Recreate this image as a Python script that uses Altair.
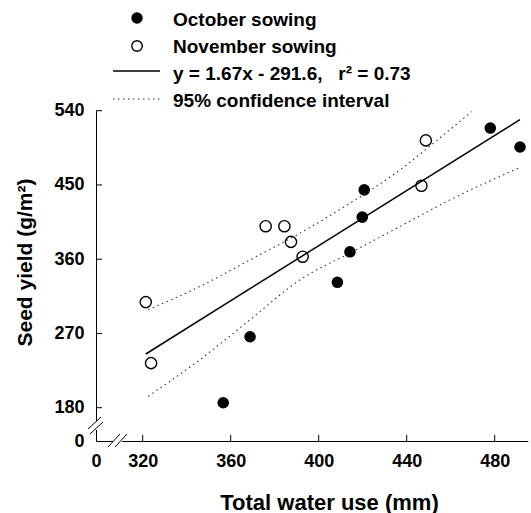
import altair as alt
import pandas as pd

# ---- data ----
oct_water = [356.6, 368.8, 408.5, 414.2, 419.8, 420.7, 478.0, 491.5]
oct_yield = [186, 266, 332, 369, 411, 444, 519, 496]
nov_water = [321.4, 323.8, 375.9, 384.4, 387.4, 392.7, 446.7, 448.7]
nov_yield = [308, 234, 400, 400, 381, 363, 449, 504]

fit_water = [321.4, 491.5]
fit_yield = [245.1, 529.2]

ci_up_water = [322.5, 346.0, 368.8, 391.5, 414.2, 436.9, 452.1, 469.5]
ci_up_yield = [298.7, 326.9, 359.2, 391.6, 427.9, 468.2, 500.5, 538.8]
ci_lo_water = [322.5, 346.0, 368.8, 391.5, 414.2, 436.9, 459.7, 490.7]
ci_lo_yield = [193.8, 238.2, 286.6, 335.0, 367.4, 399.6, 431.9, 470.3]

x_ticks = [0, 320, 360, 400, 440, 480]
y_ticks = [0, 180, 270, 360, 450, 540]
x_inner_ticks = [320, 360, 400, 440, 480]
y_inner_ticks = [180, 270, 360, 450, 540]

legend_labels = ["October sowing", "November sowing",
                 "y = 1.67x - 291.6,\u00a0\u00a0\u00a0r\u00b2 = 0.73", "95% confidence interval"]

FONT = "Liberation Sans"

oct_df = pd.DataFrame({"water": oct_water, "yield": oct_yield})
nov_df = pd.DataFrame({"water": nov_water, "yield": nov_yield})
fit_df = pd.DataFrame({"water": fit_water, "yield": fit_yield})
up_df = pd.DataFrame({"water": ci_up_water, "yield": ci_up_yield})
lo_df = pd.DataFrame({"water": ci_lo_water, "yield": ci_lo_yield})
xt_df = pd.DataFrame({"water": x_inner_ticks})
yt_df = pd.DataFrame({"yield": y_inner_ticks})
one = pd.DataFrame({"a": [0]})

xscale = alt.Scale(domain=[0, 320, 495], range=[0, 46.7, 431.7], zero=False, nice=False)
yscale = alt.Scale(domain=[0, 180, 540], range=[441, 407.7, 110.7], zero=False, nice=False)

xaxis = alt.Axis(values=x_ticks, ticks=False, labelPadding=11, labelFontSize=18,
                 labelFont=FONT, labelFontWeight="bold", labelColor="black",
                 labelFlush=False, labelOverlap=False, grid=False,
                 domainColor="black", domainWidth=1,
                 title="Total water use (mm)", titleFont=FONT, titleFontSize=22,
                 titleFontWeight="bold", titleColor="black",
                 titleX=233, titleY=61, titleAlign="center", titleBaseline="middle")
yaxis = alt.Axis(values=y_ticks, ticks=False, labelPadding=12, labelFontSize=18,
                 labelFont=FONT, labelFontWeight="bold", labelColor="black",
                 labelFlush=False, labelOverlap=False, grid=False,
                 domainColor="black", domainWidth=1,
                 title="Seed yield (g/m\u00b2)", titleFont=FONT, titleFontSize=21,
                 titleFontWeight="bold", titleColor="black",
                 titleX=-71, titleY=262, titleAngle=-90, titleAlign="center",
                 titleBaseline="middle")

X = lambda: alt.X("water:Q", scale=xscale, axis=xaxis)
Y = lambda: alt.Y("yield:Q", scale=yscale, axis=yaxis)

oct_pts = alt.Chart(oct_df).mark_point(shape="circle", filled=True, size=135,
                                       color="black", opacity=1).encode(x=X(), y=Y())
nov_pts = alt.Chart(nov_df).mark_point(shape="circle", filled=False, size=125,
                                       color="black", strokeWidth=1.4, opacity=1).encode(x=X(), y=Y())
fit = alt.Chart(fit_df).mark_line(color="black", strokeWidth=1.5).encode(x=X(), y=Y())
ci_style = dict(color="#333333", strokeWidth=1.1, strokeDash=[1.5, 3.5])
up = alt.Chart(up_df).mark_line(interpolate="monotone", **ci_style).encode(x=X(), y=Y())
lo = alt.Chart(lo_df).mark_line(interpolate="monotone", **ci_style).encode(x=X(), y=Y())

xt = alt.Chart(xt_df).mark_rule(color="black", strokeWidth=1).encode(
    x=X(), y=alt.value(441), y2=alt.value(435))
yt = alt.Chart(yt_df).mark_rule(color="black", strokeWidth=1).encode(
    y=Y(), x=alt.value(0), x2=alt.value(6))

# axis break marks
brk_segments = [
    (-8, 429, 5, 417), (-6, 434, 7, 422),      # y-axis break
    (12, 447, 24, 434), (19, 447, 31, 434),   # x-axis break
]
brk_layers = []
for (x1, y1, x2, y2) in brk_segments:
    brk_layers.append(alt.Chart(one).mark_rule(color="black", strokeWidth=1).encode(
        x=alt.value(x1), y=alt.value(y1), x2=alt.value(x2), y2=alt.value(y2)))
gap_y = alt.Chart(one).mark_rule(color="white", strokeWidth=3).encode(
    x=alt.value(0), x2=alt.value(0), y=alt.value(421), y2=alt.value(430))
gap_x = alt.Chart(one).mark_rule(color="white", strokeWidth=3).encode(
    x=alt.value(17), x2=alt.value(26), y=alt.value(441), y2=alt.value(441))

# legend
LX_SYM, LX_L1, LX_L2, LX_TXT = 41, 17, 64, 77
leg_y_sym = [18, 46, 71, 99]
leg_y_txt = [20, 47, 74, 101]
leg = [
    alt.Chart(one).mark_point(shape="circle", filled=True, size=130, color="black", opacity=1).encode(
        x=alt.value(LX_SYM), y=alt.value(leg_y_sym[0])),
    alt.Chart(one).mark_point(shape="circle", filled=False, size=110, color="black",
                              strokeWidth=1.4, opacity=1).encode(
        x=alt.value(LX_SYM), y=alt.value(leg_y_sym[1])),
    alt.Chart(one).mark_rule(color="black", strokeWidth=1.5).encode(
        x=alt.value(LX_L1), x2=alt.value(LX_L2), y=alt.value(leg_y_sym[2])),
    alt.Chart(one).mark_rule(**ci_style).encode(
        x=alt.value(LX_L1), x2=alt.value(LX_L2), y=alt.value(leg_y_sym[3])),
]
for lbl, yy in zip(legend_labels, leg_y_txt):
    leg.append(alt.Chart(one).mark_text(text=lbl, align="left", baseline="middle",
                                        font=FONT, fontSize=19, fontWeight="bold",
                                        color="black").encode(
        x=alt.value(LX_TXT), y=alt.value(yy)))

chart = alt.layer(oct_pts, up, lo, fit, nov_pts, xt, yt, gap_y, gap_x,
                  *brk_layers, *leg).properties(
    width=435, height=441,
    autosize=alt.AutoSizeParams(type="none"),
    padding={"left": 96, "top": 0, "right": 0, "bottom": 72},
    background="white",
).configure_view(stroke=None)

chart.save("out.html", embed_options={"renderer": "svg", "actions": False})
